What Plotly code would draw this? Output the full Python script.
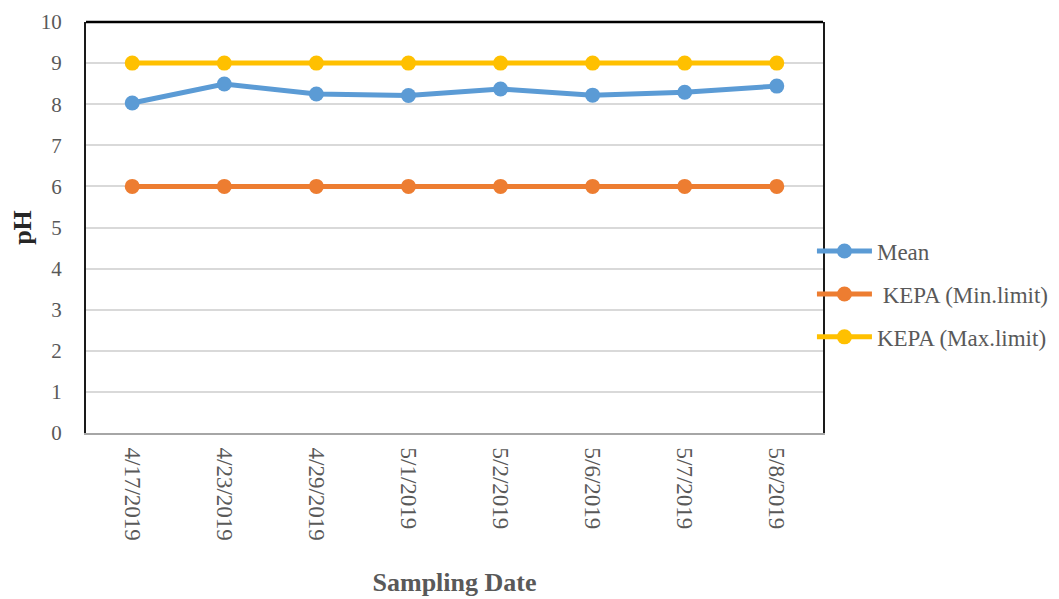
import plotly.graph_objects as go

dates = ["4/17/2019", "4/23/2019", "4/29/2019", "5/1/2019", "5/2/2019", "5/6/2019", "5/7/2019", "5/8/2019"]
mean_ph = [8.03, 8.49, 8.25, 8.21, 8.37, 8.22, 8.29, 8.44]
kepa_min = [6, 6, 6, 6, 6, 6, 6, 6]
kepa_max = [9, 9, 9, 9, 9, 9, 9, 9]

FONT = "Liberation Serif"
GRAY = "#595959"

fig = go.Figure()
series = [
    ("Mean", mean_ph, "#5B9BD5"),
    (" KEPA (Min.limit)", kepa_min, "#ED7D31"),
    ("KEPA (Max.limit)", kepa_max, "#FFC000"),
]
for i, (name, vals, col) in enumerate(series):
    fig.add_trace(go.Scatter(
        x=dates, y=vals, name=name, mode="lines+markers", legendgroup=str(i),
        line=dict(color=col, width=5),
        marker=dict(color=col, size=15),
    ))

# page has an 8px body margin, so figure coords are offset by 8px from the screenshot
fig.update_layout(
    width=1059, height=599,
    margin=dict(l=78, r=244, t=14, b=174, autoexpand=False),
    paper_bgcolor="white", plot_bgcolor="white",
    font=dict(family=FONT, size=21, color=GRAY),
    showlegend=True,
    legend=dict(x=0.985, y=0.338, xanchor="left", yanchor="middle",
                font=dict(family=FONT, size=23, color=GRAY),
                itemwidth=55, tracegroupgap=10, bgcolor="rgba(0,0,0,0)"),
    xaxis=dict(
        type="category", tickangle=90, showgrid=False,
        showline=True, linecolor="#A6A6A6", linewidth=2, mirror=False,
        ticks="", ticklabelstandoff=8, tickfont=dict(family=FONT, size=23, color=GRAY),
        title=dict(text="<b>Sampling Date</b>", font=dict(family=FONT, size=26, color=GRAY), standoff=33),
    ),
    yaxis=dict(
        range=[0, 10], dtick=1, showgrid=True, gridcolor="#D9D9D9", gridwidth=1.5,
        showline=True, linecolor="#1a1a1a", linewidth=2, mirror=True,
        ticks="", ticklabelstandoff=18, tickfont=dict(family=FONT, size=21, color=GRAY),
        zeroline=False,
        title=dict(text="<b>pH</b>", font=dict(family=FONT, size=26, color="#262626"), standoff=14),
    ),
    shapes=[dict(type="line", xref="paper", yref="paper", x0=0, x1=1, y0=1, y1=1,
                 line=dict(color="black", width=2.5))],
)

fig.write_html("out.html")
